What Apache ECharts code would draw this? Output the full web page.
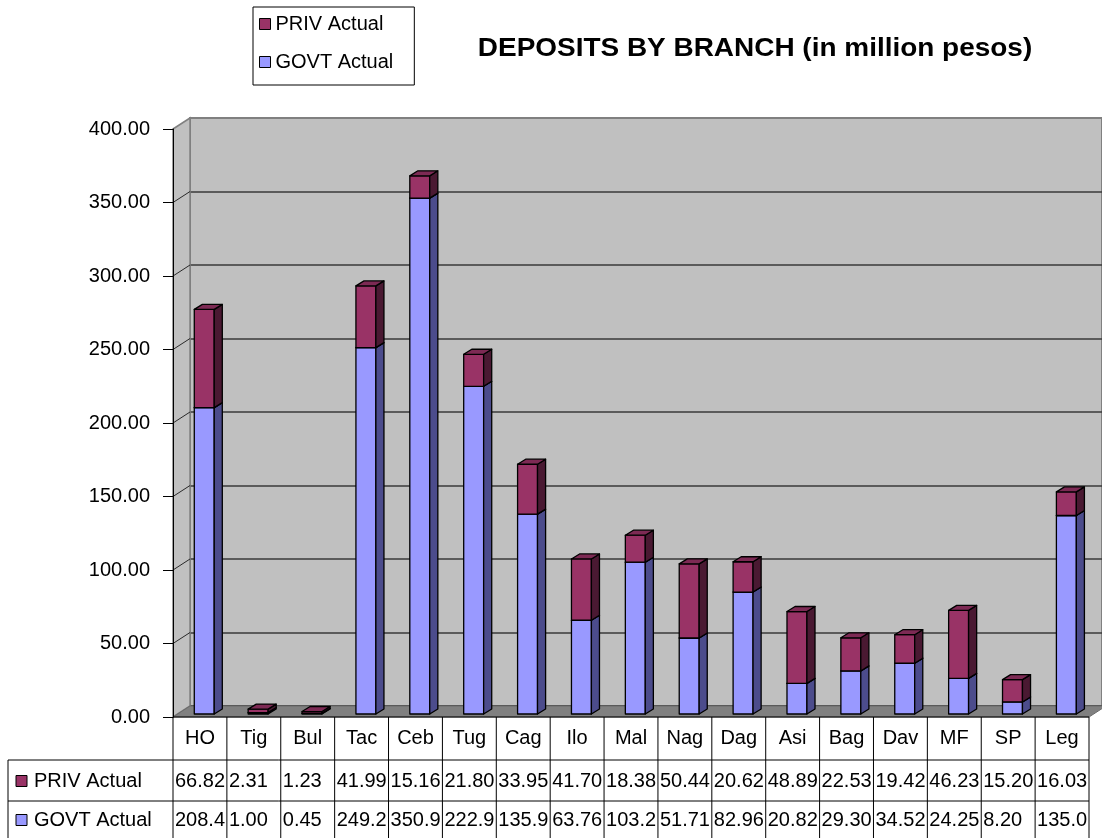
<!DOCTYPE html>
<html>
<head>
<meta charset="utf-8">
<script src="https://cdn.jsdelivr.net/npm/echarts/dist/echarts.min.js"></script>
<style>html,body{margin:0;padding:0;background:#fff}#c{width:1102px;height:838px}</style>
</head>
<body>
<div id="c"></div>
<script>
const categories = ['HO','Tig','Bul','Tac','Ceb','Tug','Cag','Ilo','Mal','Nag','Dag','Asi','Bag','Dav','MF','SP','Leg'];
const privActual = [66.82,2.31,1.23,41.99,15.16,21.80,33.95,41.70,18.38,50.44,20.62,48.89,22.53,19.42,46.23,15.20,16.03];
const govtActual = [208.41,1.00,0.45,249.23,350.94,222.91,135.96,63.76,103.25,51.71,82.96,20.82,29.30,34.52,24.25,8.20,135.04];
const seriesNames = ['PRIV Actual','GOVT Actual'];
const titleText = 'DEPOSITS BY BRANCH (in million pesos)';
const yMin = 0, yMax = 400, yStep = 50;

const FONT = "'Liberation Sans', Arial, sans-serif";
const COL = {
  govt: {front:'#9999FF', side:'#4C4C8C', top:'#7C7CD6'},
  priv: {front:'#993366', side:'#4A1932', top:'#7D2A54'}
};

function makeRender(c){
  return function(params, api){
    const i = api.value(0), lo = api.value(1), hi = api.value(2);
    const band = api.size([1,0])[0];
    const c0 = api.coord([i, lo]), c1 = api.coord([i, hi]);
    const fw = band*0.37, sx = band*0.08, sy = -3, dx = band*0.15, dy = -band*0.093;
    const x0 = c0[0] - fw/2 + sx, yb = c0[1] + sy, yt = c1[1] + sy;
    const ls = {stroke:'#000', lineWidth:1.3, lineJoin:'round'};
    return {type:'group', children:[
      {type:'rect', shape:{x:x0, y:yt, width:fw, height:yb-yt}, style:Object.assign({fill:c.front}, ls)},
      {type:'polygon', shape:{points:[[x0+fw,yb],[x0+fw+dx,yb+dy],[x0+fw+dx,yt+dy],[x0+fw,yt]]}, style:Object.assign({fill:c.side}, ls)},
      {type:'polygon', shape:{points:[[x0,yt],[x0+dx,yt+dy],[x0+fw+dx,yt+dy],[x0+fw,yt]]}, style:Object.assign({fill:c.top}, ls)}
    ]};
  };
}

const govtData = categories.map((c,i)=>[i, 0, govtActual[i]]);
const privData = categories.map((c,i)=>[i, govtActual[i], govtActual[i]+privActual[i]]);

const chart = echarts.init(document.getElementById('c'));
const splitColors = [];
for (let v = yMin; v <= yMax; v += yStep) splitColors.push(v === yMax ? '#808080' : '#3a3a3a');

chart.setOption({
  animation: false,
  backgroundColor: '#ffffff',
  legend: {
    data: seriesNames, orient: 'vertical', left: 253, top: 7,
    padding: [7, 21, 13, 6], itemGap: 18, itemWidth: 11, itemHeight: 11, icon: 'rect',
    itemStyle: {borderColor: '#000', borderWidth: 1},
    borderColor: '#000', borderWidth: 1, backgroundColor: '#fff',
    textStyle: {fontFamily: FONT, fontSize: 20, color: '#000', lineHeight: 20}
  },
  grid: [
    {left: 173, right: 13, top: 129, bottom: 121},
    {left: 190, right: -30, top: 118, bottom: 132, show: true, backgroundColor: '#C0C0C0', borderColor: '#808080', borderWidth: 2}
  ],
  xAxis: [
    {type: 'category', gridIndex: 0, data: categories, show: false},
    {type: 'value', gridIndex: 1, min: 0, max: 1, show: false}
  ],
  yAxis: [
    {type: 'value', gridIndex: 0, min: yMin, max: yMax, interval: yStep, z: 5,
     axisLine: {show: true, lineStyle: {color: '#000', width: 1}},
     axisTick: {show: true, length: 10, lineStyle: {color: '#000'}},
     axisLabel: {margin: 23, color: '#000', fontSize: 20, fontFamily: FONT, formatter: v => v.toFixed(2)},
     splitLine: {show: false}},
    {type: 'value', gridIndex: 1, min: yMin, max: yMax, interval: yStep,
     axisLine: {show: false}, axisTick: {show: false}, axisLabel: {show: false},
     splitLine: {show: true, lineStyle: {color: splitColors, width: 1.5}}}
  ],
  series: [
    {name: 'GOVT Actual', type: 'custom', xAxisIndex: 0, yAxisIndex: 0, z: 3,
     itemStyle: {color: COL.govt.front}, encode: {x: 0, y: [1, 2]},
     renderItem: makeRender(COL.govt), data: govtData},
    {name: 'PRIV Actual', type: 'custom', xAxisIndex: 0, yAxisIndex: 0, z: 3,
     itemStyle: {color: COL.priv.front}, encode: {x: 0, y: [1, 2]},
     renderItem: makeRender(COL.priv), data: privData}
  ]
});

// Derived geometry from the library's scales
const n = categories.length;
const xc = i => chart.convertToPixel({xAxisIndex: 0}, i);
const yF = v => chart.convertToPixel({yAxisIndex: 0}, v);
const yB = v => chart.convertToPixel({yAxisIndex: 1}, v);
const band = xc(1) - xc(0);
const xL = xc(0) - band/2, xR = xc(n-1) + band/2;
const xB = chart.convertToPixel({xAxisIndex: 1}, 0);
const dX = xB - xL;
const g = [];

// side wall
g.push({type: 'polygon', z: 1, shape: {points: [[xL, yF(yMax)], [xB, yB(yMax)], [xB, yB(yMin)], [xL, yF(yMin)]]},
  style: {fill: '#C0C0C0', stroke: '#808080', lineWidth: 1.5}});
for (let v = yMin + yStep; v < yMax; v += yStep) {
  g.push({type: 'line', z: 1, shape: {x1: xL, y1: yF(v), x2: xB, y2: yB(v)}, style: {stroke: '#2a2a2a', lineWidth: 1}});
}
// floor
g.push({type: 'polygon', z: 1, shape: {points: [[xL, yF(yMin)], [xB, yB(yMin)], [xR + dX, yB(yMin)], [xR, yF(yMin)]]},
  style: {fill: '#808080', stroke: '#6a6a6a', lineWidth: 1}});

// data table
const y0 = yF(yMin), r1 = 760, r2 = 801, rEnd = 838, tLeft = 8;
const hdrY = (y0 + r1)/2, privY = (r1 + r2)/2 + 1, govtY = (r2 + rEnd)/2 + 1;
const lineSt = {stroke: '#000', lineWidth: 1};
g.push({type: 'line', z: 4, shape: {x1: xL, y1: y0, x2: xR, y2: y0}, style: lineSt});
g.push({type: 'line', z: 4, shape: {x1: tLeft, y1: r1, x2: xR, y2: r1}, style: lineSt});
g.push({type: 'line', z: 4, shape: {x1: tLeft, y1: r2, x2: xR, y2: r2}, style: lineSt});
g.push({type: 'line', z: 4, shape: {x1: tLeft, y1: r1, x2: tLeft, y2: rEnd}, style: lineSt});
for (let k = 0; k <= n; k++) {
  const x = xL + k*band;
  g.push({type: 'line', z: 4, shape: {x1: x, y1: y0, x2: x, y2: rEnd}, style: lineSt});
}
const txt = (x, y, text, align, extra) => Object.assign({type: 'text', z: 4, x: x, y: y,
  style: Object.assign({text: text, fontFamily: FONT, fontSize: 20, fill: '#000', align: align, verticalAlign: 'middle'}, extra || {})});
for (let i = 0; i < n; i++) {
  g.push(txt(xc(i), hdrY, categories[i], 'center'));
  const left = xL + i*band + 2;
  const trunc = {width: band + 5, overflow: 'truncate', ellipsis: ''};
  g.push(txt(left, privY, privActual[i].toFixed(2), 'left', trunc));
  g.push(txt(left, govtY, govtActual[i].toFixed(2), 'left', trunc));
}
// row headers
[[seriesNames[0], privY, COL.priv.front], [seriesNames[1], govtY, COL.govt.front]].forEach(r => {
  g.push({type: 'rect', z: 4, shape: {x: 16, y: r[1] - 6, width: 11, height: 11}, style: {fill: r[2], stroke: '#000', lineWidth: 1}});
  g.push(txt(34, r[1], r[0], 'left'));
});
// title
g.push({type: 'text', z: 4, x: 755, y: 49, scaleX: 1.075,
  style: {text: titleText, fontFamily: FONT, fontSize: 26, fontWeight: 'bold', fill: '#000', align: 'center', verticalAlign: 'middle'}});

chart.setOption({graphic: g});
</script>
</body>
</html>
